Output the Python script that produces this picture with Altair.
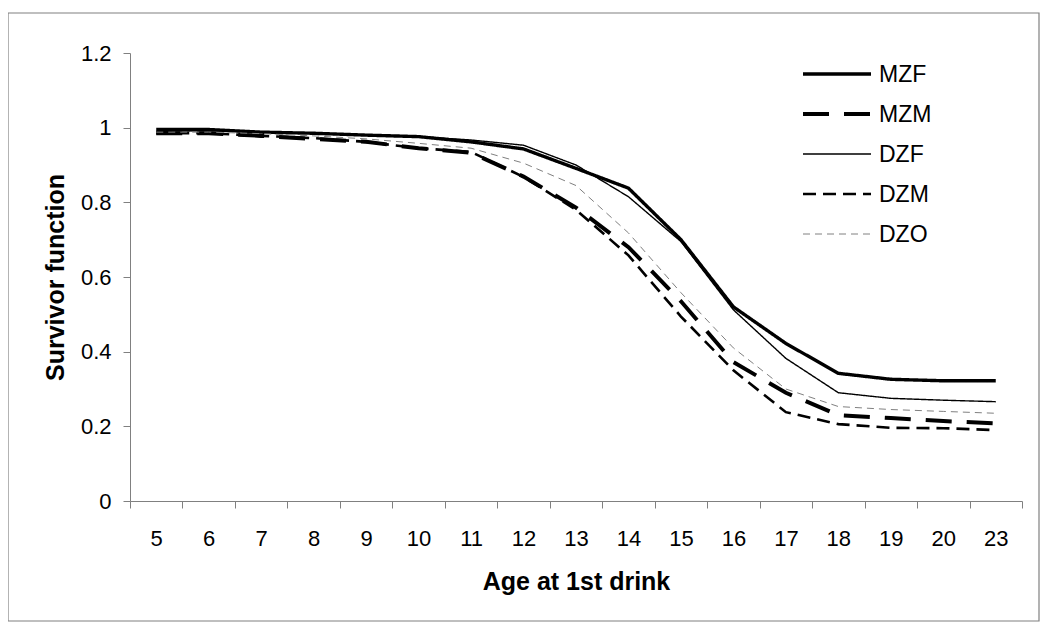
import altair as alt
import pandas as pd

ages = ["5", "6", "7", "8", "9", "10", "11", "12", "13", "14", "15", "16", "17", "18", "19", "20", "23"]
series = ["MZF", "MZM", "DZF", "DZM", "DZO"]
MZF = [0.995, 0.995, 0.988, 0.985, 0.980, 0.976, 0.962, 0.943, 0.891, 0.838, 0.700, 0.520, 0.422, 0.342, 0.326, 0.322, 0.322]
MZM = [0.985, 0.985, 0.978, 0.970, 0.962, 0.945, 0.933, 0.869, 0.786, 0.680, 0.535, 0.372, 0.290, 0.230, 0.222, 0.214, 0.208]
DZF = [0.990, 0.992, 0.988, 0.985, 0.980, 0.976, 0.967, 0.953, 0.900, 0.815, 0.695, 0.512, 0.382, 0.290, 0.275, 0.270, 0.266]
DZM = [0.985, 0.985, 0.978, 0.972, 0.962, 0.945, 0.935, 0.868, 0.780, 0.658, 0.494, 0.350, 0.238, 0.206, 0.196, 0.195, 0.190]
DZO = [0.988, 0.988, 0.984, 0.978, 0.970, 0.958, 0.945, 0.905, 0.845, 0.718, 0.558, 0.410, 0.300, 0.253, 0.245, 0.240, 0.235]

values = {"MZF": MZF, "MZM": MZM, "DZF": DZF, "DZM": DZM, "DZO": DZO}
rows = []
for s in series:
    for a, v in zip(ages, values[s]):
        rows.append({"age": a, "value": v, "series": s})
df = pd.DataFrame(rows)
leg_df = pd.DataFrame({"series": series})

FONT = "Liberation Sans"
colors = ["#000000", "#000000", "#000000", "#000000", "#808080"]
dashes = [[1, 0], [26, 15], [1, 0], [13, 7], [7, 5]]
widths = [3.4, 4.0, 1.4, 2.6, 1.0]

color_enc = alt.Color("series:N", scale=alt.Scale(domain=series, range=colors), legend=None)
dash_enc = alt.StrokeDash("series:N", scale=alt.Scale(domain=series, range=dashes), legend=None)
width_enc = alt.StrokeWidth("series:N", scale=alt.Scale(type="ordinal", domain=series, range=widths), legend=None)

W, H = 892, 448

lines = alt.Chart(df).mark_line(strokeJoin="miter").encode(
    x=alt.X("age:N", sort=ages,
            scale=alt.Scale(domain=ages, paddingInner=0, paddingOuter=0),
            axis=alt.Axis(title="Age at 1st drink", labelAngle=0, tickBand="extent",
                          tickSize=7, labelPadding=37, labelBaseline="alphabetic",
                          titleX=W / 2, titleY=88, titleAlign="center",
                          titleBaseline="alphabetic")),
    y=alt.Y("value:Q", scale=alt.Scale(domain=[0, 1.2], nice=False, zero=True),
            axis=alt.Axis(title="Survivor function", values=[0, 0.2, 0.4, 0.6, 0.8, 1.0, 1.2],
                          format=".1~f", tickSize=7, labelPadding=12,
                          titleX=-67, titleY=H / 2, titleAngle=270, titleAlign="center",
                          titleBaseline="alphabetic")),
    color=color_enc,
    strokeDash=dash_enc,
    strokeWidth=width_enc,
    detail="series:N",
)

leg_y = alt.Y("series:N", scale=alt.Scale(type="point", domain=series, range=[21, 181], padding=0), axis=None)

leg_lines = alt.Chart(leg_df).mark_rule().encode(
    x=alt.value(673), x2=alt.value(741),
    y=leg_y,
    color=color_enc,
    strokeDash=dash_enc,
    strokeWidth=width_enc,
)
leg_text = alt.Chart(leg_df).mark_text(align="left", baseline="alphabetic", dy=8,
                                        font=FONT, fontSize=23, color="black").encode(
    x=alt.value(749),
    y=leg_y,
    text="series:N",
)
legend = alt.layer(leg_lines, leg_text)

border = alt.Chart(alt.Data(values=[{}])).mark_rect(
    fill="white", fillOpacity=0, stroke="#808080", strokeWidth=1.2
).encode(
    x=alt.value(-122), x2=alt.value(909), y=alt.value(-40), y2=alt.value(568)
)

chart = alt.layer(border, lines, legend).resolve_scale(y="independent").properties(
    width=W, height=H,
    padding={"left": 122, "top": 45, "right": 20, "bottom": 121},
    autosize=alt.AutoSizeParams(type="none"),
    background="white",
).configure_view(stroke=None).configure_axis(
    grid=False,
    domainColor="#808080", tickColor="#808080", domainWidth=1, tickWidth=1,
    labelFont=FONT, labelFontSize=22, labelColor="black",
    titleFont=FONT, titleFontSize=25, titleFontWeight="bold", titleColor="black",
)

chart.save("out.html", embed_options={"renderer": "svg", "actions": False})
